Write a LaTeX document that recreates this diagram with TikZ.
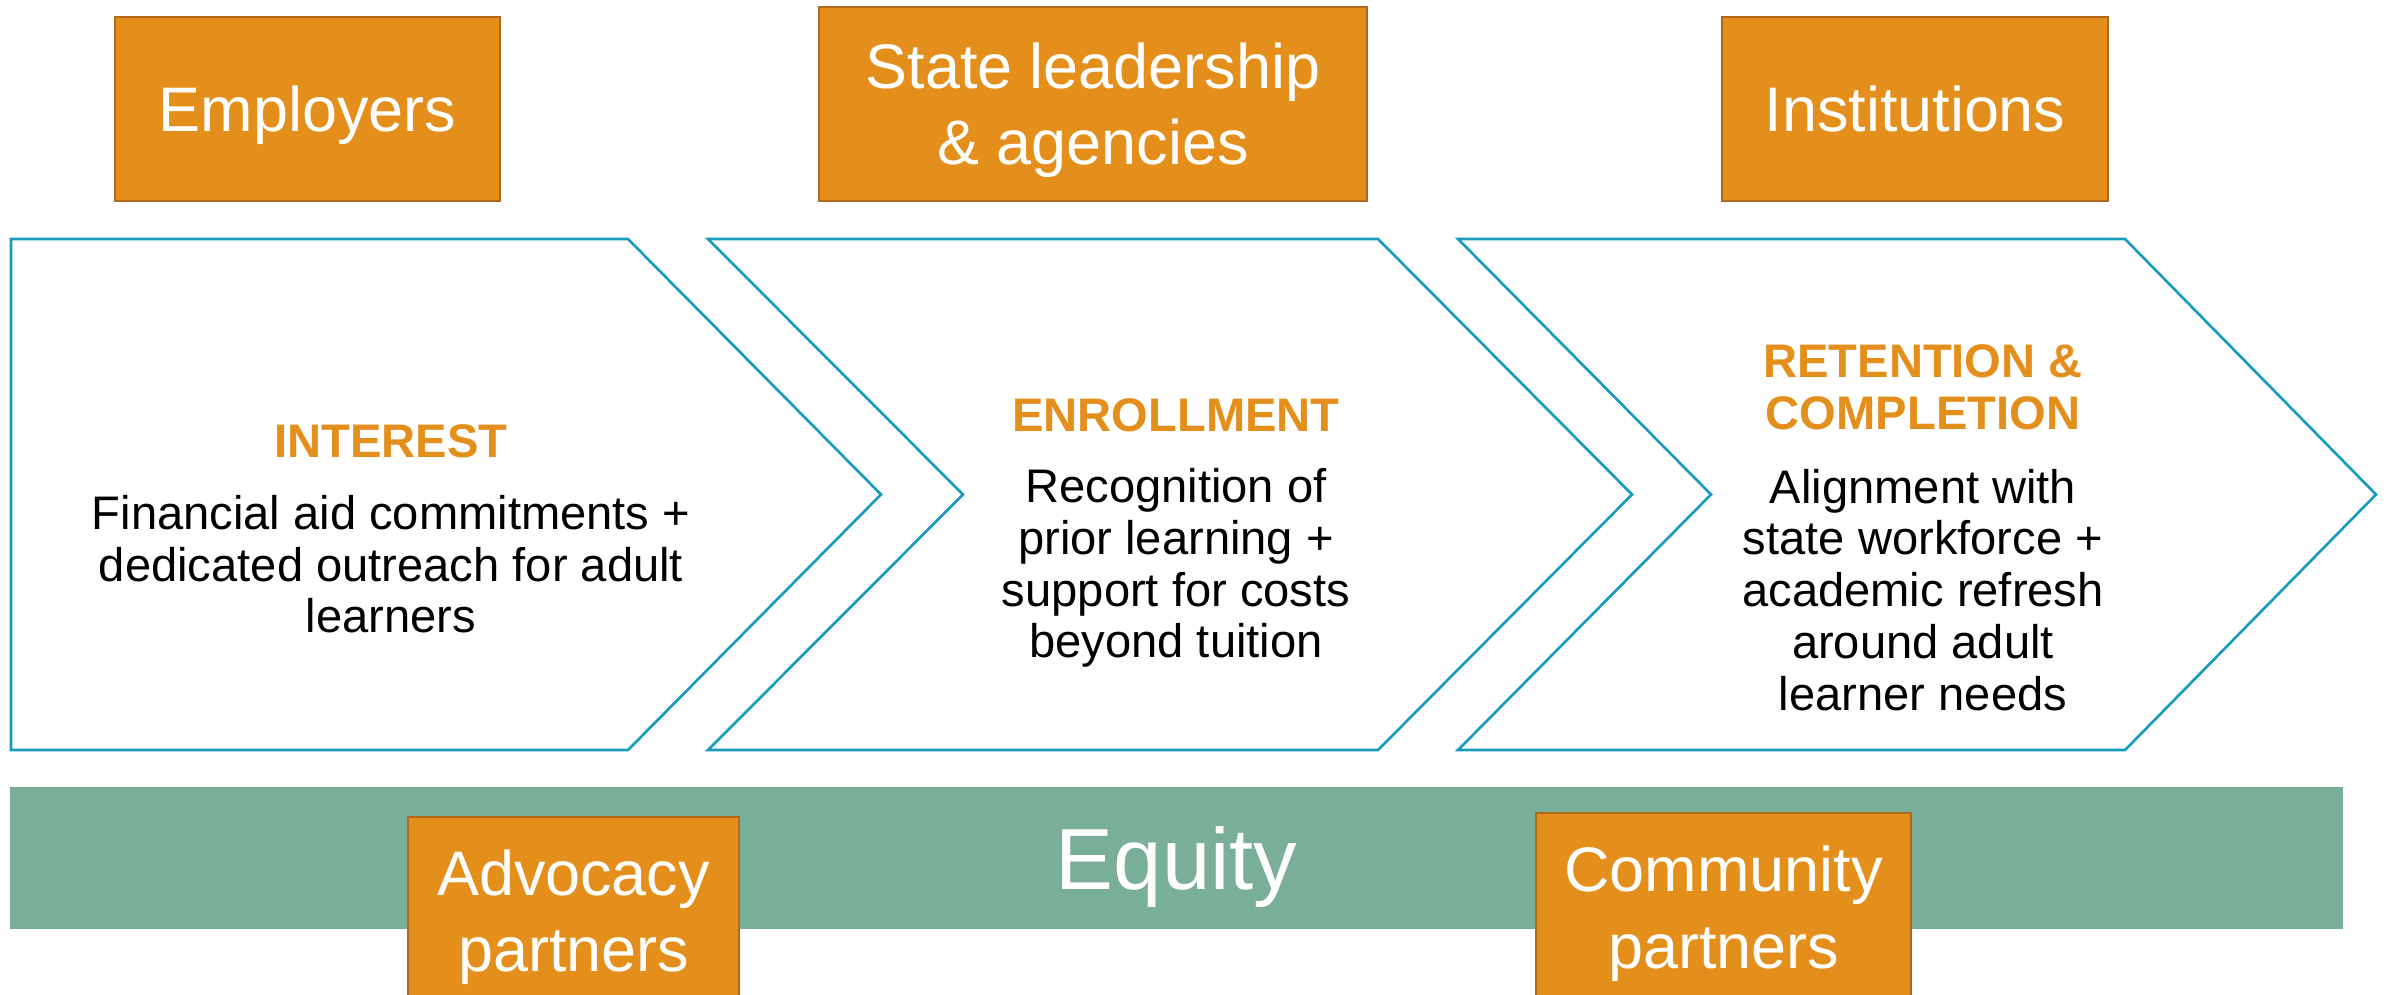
\documentclass[tikz,border=0pt]{standalone}
\usepackage{fontspec}
\setmainfont{Liberation Sans}
\usepackage{xcolor}

\definecolor{actorfill}{RGB}{228,143,27}
\definecolor{actorline}{RGB}{176,104,26}
\definecolor{stageline}{RGB}{25,155,190}
\definecolor{equitygreen}{RGB}{121,174,153}

\begin{document}
\begin{tikzpicture}[x=0.01cm, y=-0.01cm,
	actor/.style={draw=actorline, fill=actorfill, line width=0.6pt, text=white,
		align=center, inner sep=0pt, font=\fontsize{17.9}{21.7}\selectfont,
		text height=12.8pt, text depth=0pt},
	actortwo/.style={actor, text height=34.5pt},
	stage/.style={draw=stageline, line width=0.75pt, line join=miter},
	stagehead/.style={anchor=base, align=center, text=actorfill,
		font=\fontsize{13.4}{14.8}\selectfont\bfseries},
	stagetext/.style={anchor=base, align=center,
		font=\fontsize{13.4}{14.7}\selectfont}]
	
	\useasboundingbox (0,0) rectangle (2392,995);
	\clip (0,0) rectangle (2392,995);
	\fill[white] (0,0) rectangle (2392,995);
	
	% partners on top
	\node[actor, minimum width=3.85cm, minimum height=1.84cm] (employers) at (307.5,109) {Employers};
	\node[actortwo, minimum width=5.48cm, minimum height=1.94cm] (state) at (1093,104) {State leadership\\\& agencies};
	\node[actor, minimum width=3.86cm, minimum height=1.84cm] (institutions) at (1915,109) {Institutions};
	
	% the three stages
	\draw[stage] (11,239) -- (628,239) -- (881,494.5) -- (628,750) -- (11,750) -- cycle;
	\draw[stage] (708,239) -- (1378,239) -- (1632,494.5) -- (1378,750) -- (708,750) -- (963,494.5) -- cycle;
	\draw[stage] (1458,239) -- (2125,239) -- (2376,494.5) -- (2125,750) -- (1458,750) -- (1711,494.5) -- cycle;
	
	% base of a text in several lines = its last line
	\node[stagehead] (interest) at (391,458) {INTEREST};
	\node[stagetext] (interesttext) at (391,633) {Financial aid commitments +\\dedicated outreach for adult\\learners};
	
	\node[stagehead] (enrollment) at (1176,432) {ENROLLMENT};
	\node[stagetext] (enrollmenttext) at (1176,658) {Recognition of\\prior learning +\\support for costs\\beyond tuition};
	
	\node[stagehead] (retention) at (1923,430) {RETENTION \&\\COMPLETION};
	\node[stagetext] (retentiontext) at (1923,710) {Alignment with\\state workforce +\\academic refresh\\around adult\\learner needs};
	
	% equity bar and partners below
	\node[fill=equitygreen, inner sep=0pt, minimum width=23.31cm, minimum height=1.42cm,
		text=white, font=\fontsize{24.7}{29}\selectfont, text height=17.7pt, text depth=0pt] (equity) at (1176.5,858) {Equity};
	\node[actortwo, minimum width=3.31cm, minimum height=1.88cm] (advocacy) at (573.5,911) {Advocacy\\partners};
	\node[actortwo, minimum width=3.75cm, minimum height=1.89cm] (community) at (1723.5,907.5) {Community\\partners};
	
\end{tikzpicture}
\end{document}
